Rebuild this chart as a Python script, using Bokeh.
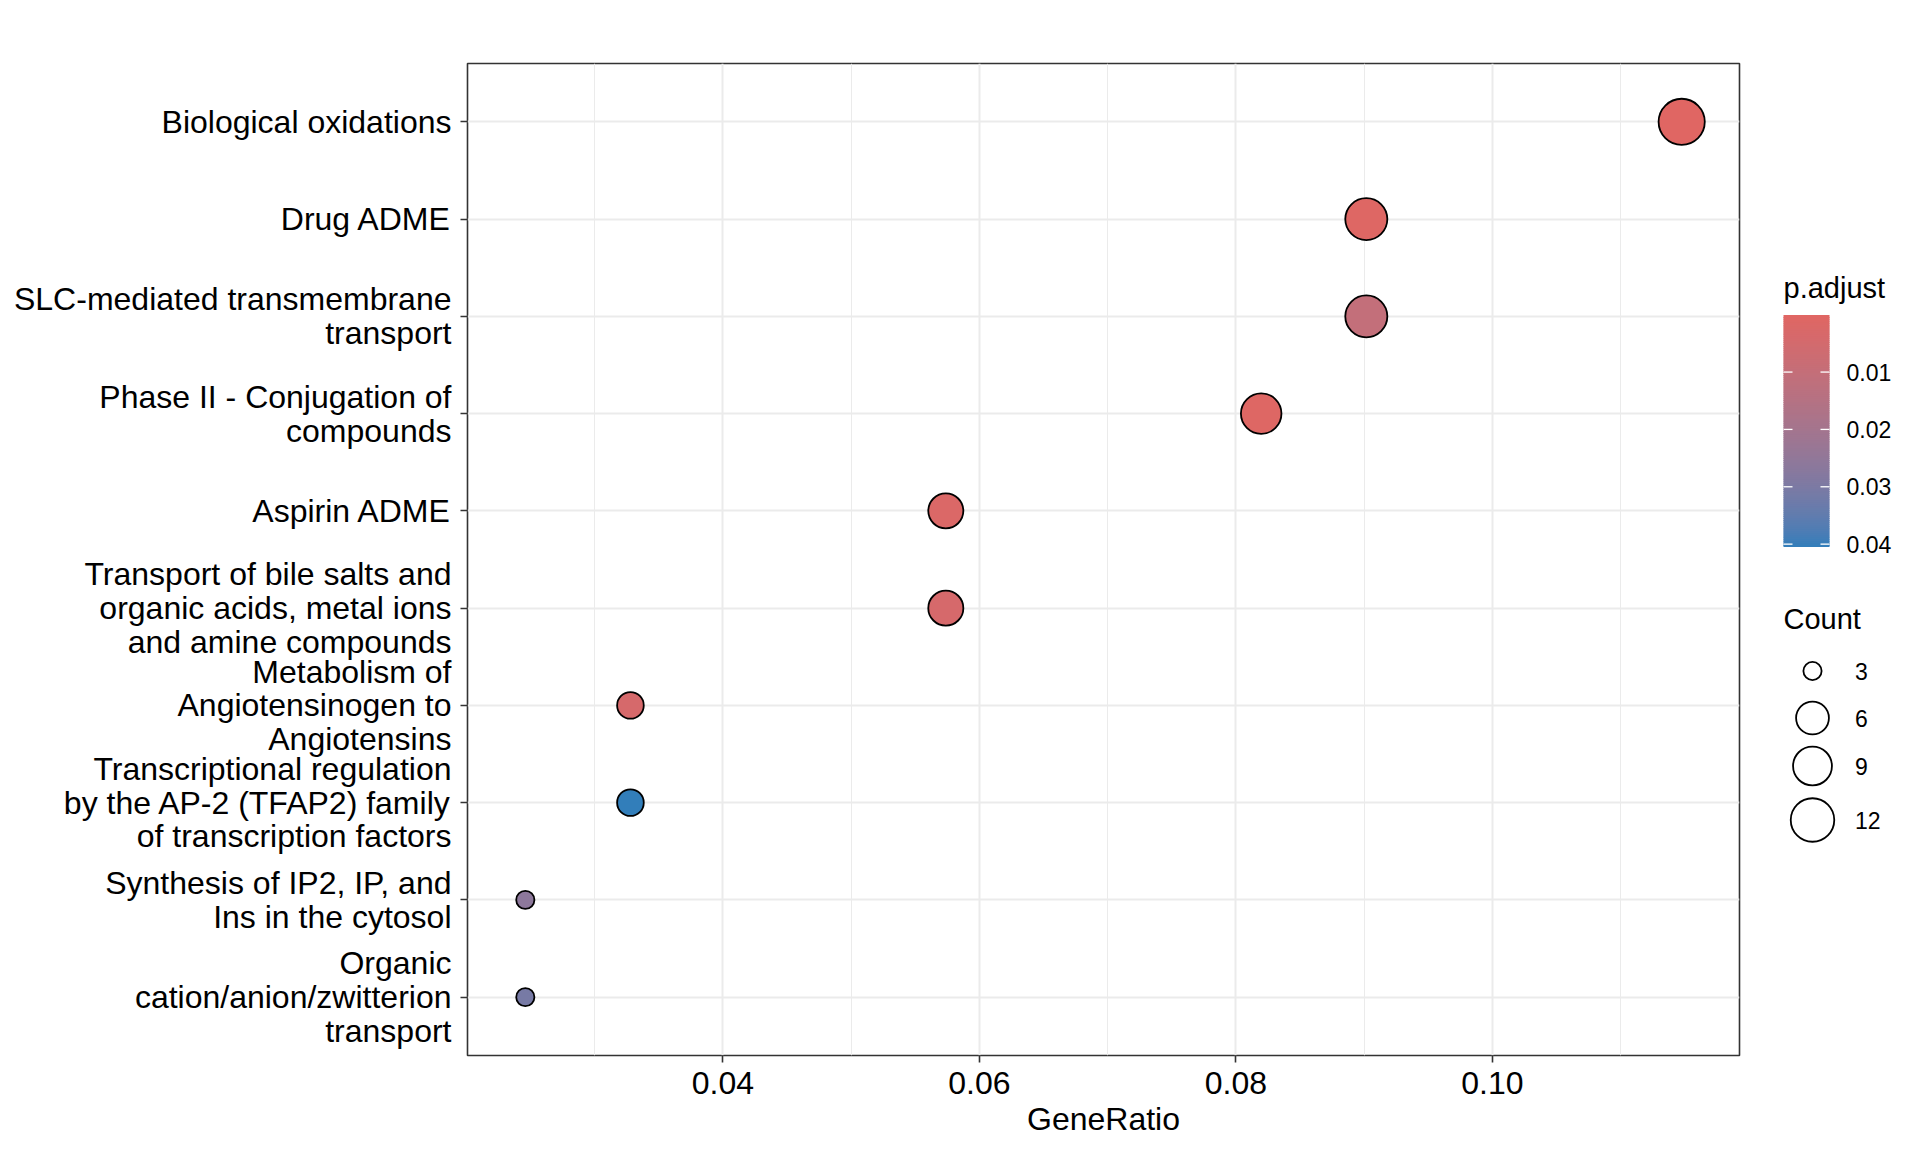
import numpy as np
from bokeh.plotting import figure
from bokeh.models import (ColumnDataSource, Range1d, FactorRange, FixedTicker,
                          LinearColorMapper, CustomJSTickFormatter)
from bokeh.layouts import row
from bokeh.transform import transform
from bokeh.core.properties import value
from bokeh.embed import file_html
from bokeh.resources import INLINE

# ---------------- data ----------------
pathways = [
    "Biological oxidations",
    "Drug ADME",
    "SLC-mediated transmembrane\ntransport",
    "Phase II - Conjugation of\ncompounds",
    "Aspirin ADME",
    "Transport of bile salts and\norganic acids, metal ions\nand amine compounds",
    "Metabolism of\nAngiotensinogen to\nAngiotensins",
    "Transcriptional regulation\nby the AP-2 (TFAP2) family\nof transcription factors",
    "Synthesis of IP2, IP, and\nIns in the cytosol",
    "Organic\ncation/anion/zwitterion\ntransport",
]
gene_ratio = [14/122, 11/122, 11/122, 10/122, 7/122, 7/122, 4/122, 4/122, 3/122, 3/122]
counts = [14, 11, 11, 10, 7, 7, 4, 4, 3, 3]
p_adjust = [0.00005, 0.0008, 0.0105, 0.0008, 0.002, 0.004, 0.004, 0.0405, 0.026, 0.031]

x_ticks = [0.04, 0.06, 0.08, 0.10]
x_minor = [0.03, 0.05, 0.07, 0.09, 0.11]
cbar_ticks = [0.01, 0.02, 0.03, 0.04]
cbar_labels = ["0.01", "0.02", "0.03", "0.04"]
count_breaks = [3, 6, 9, 12]

LOW_COL = "#e06663"
HIGH_COL = "#327eba"
FONT = "Liberation Sans"

# ---------------- colour palette (Lab interpolation) ----------------
def hex2rgb(h):
    h = h.lstrip("#")
    return np.array([int(h[i:i+2], 16) for i in (0, 2, 4)], dtype=float) / 255.0

M = np.array([[0.4124564, 0.3575761, 0.1804375],
              [0.2126729, 0.7151522, 0.0721750],
              [0.0193339, 0.1191920, 0.9503041]])
Minv = np.linalg.inv(M)
WHITE = np.array([0.95047, 1.0, 1.08883])

def rgb2lab(c):
    lin = np.where(c <= 0.04045, c / 12.92, ((c + 0.055) / 1.055) ** 2.4)
    xyz = M @ lin / WHITE
    f = np.where(xyz > (6/29) ** 3, np.cbrt(xyz), xyz / (3 * (6/29) ** 2) + 4/29)
    return np.array([116 * f[1] - 16, 500 * (f[0] - f[1]), 200 * (f[1] - f[2])])

def lab2hex(lab):
    L, a, b = lab
    fy = (L + 16) / 116
    fx = fy + a / 500
    fz = fy - b / 200
    f = np.array([fx, fy, fz])
    xyz = np.where(f > 6/29, f ** 3, 3 * (6/29) ** 2 * (f - 4/29)) * WHITE
    lin = Minv @ xyz
    lin = np.clip(lin, 0, 1)
    c = np.where(lin <= 0.0031308, 12.92 * lin, 1.055 * lin ** (1/2.4) - 0.055)
    c = np.clip(np.round(c * 255), 0, 255).astype(int)
    return "#%02x%02x%02x" % tuple(c)

l0, l1 = rgb2lab(hex2rgb(LOW_COL)), rgb2lab(hex2rgb(HIGH_COL))
palette = [lab2hex(l0 + (l1 - l0) * t) for t in np.linspace(0, 1, 256)]

vmin, vmax = min(p_adjust), max(p_adjust)
mapper = LinearColorMapper(palette=palette, low=vmin, high=vmax)

# size scale (area scale, range 3..8)
cmin, cmax = min(counts), max(counts)
def size_px(c):
    s = 3 + 5 * np.sqrt((np.asarray(c, float) - cmin) / (cmax - cmin))
    return 5.6 * s + 1.4

# ---------------- layout constants ----------------
FIG_H = 1144
B_TOP, B_BOTTOM = 63, 89
B_LEFT, FRAME_W, B_RIGHT = 467, 1272, 22

# ---------------- main panel ----------------
factors = pathways[::-1]
span = max(gene_ratio) - min(gene_ratio)
xr = Range1d(min(gene_ratio) - 0.05 * span, max(gene_ratio) + 0.05 * span)
yr = FactorRange(factors=factors, range_padding=0.1, range_padding_units="absolute")

p = figure(width=B_LEFT + FRAME_W + B_RIGHT, height=FIG_H, x_range=xr, y_range=yr,
           output_backend="svg", toolbar_location=None,
           min_border_left=B_LEFT, min_border_right=B_RIGHT,
           min_border_top=B_TOP, min_border_bottom=B_BOTTOM,
           background_fill_color="white", border_fill_color="white")

src = ColumnDataSource(dict(x=gene_ratio, y=pathways, padj=p_adjust,
                            size=list(size_px(counts)), count=counts))
p.scatter("x", "y", source=src, size="size",
          fill_color=transform("padj", mapper), fill_alpha=1.0,
          line_color="black", line_width=1.8)

p.outline_line_color = "#333333"
p.outline_line_width = 1.6

p.xaxis.ticker = FixedTicker(ticks=x_ticks, minor_ticks=x_minor)
p.xaxis.formatter = CustomJSTickFormatter(code="return tick.toFixed(2);")
p.xgrid.grid_line_color = "#ebebeb"
p.xgrid.grid_line_width = 2
p.xgrid.minor_grid_line_color = "#ebebeb"
p.xgrid.minor_grid_line_width = 1
p.ygrid.grid_line_color = "#ebebeb"
p.ygrid.grid_line_width = 2

for ax in (p.xaxis, p.yaxis):
    ax.axis_line_color = None
    ax.major_tick_line_color = "#333333"
    ax.major_tick_line_width = 1.6
    ax.major_tick_out = 7
    ax.major_tick_in = 0
    ax.minor_tick_line_color = None
    ax.major_label_text_font = FONT
    ax.major_label_text_font_size = "32px"
    ax.major_label_text_color = "black"

p.yaxis.major_label_standoff = 9
p.yaxis.major_label_text_line_height = 0.94
p.xaxis.major_label_standoff = 9
p.xaxis.axis_label = "GeneRatio"
p.xaxis.axis_label_text_font = FONT
p.xaxis.axis_label_text_font_size = "32px"
p.xaxis.axis_label_text_font_style = "normal"
p.xaxis.axis_label_text_color = "black"
p.xaxis.axis_label_standoff = 4

# ---------------- legend panel ----------------
# ranges expressed in page pixels (frame aligned with the main panel)
Q_X0 = 1769
Q_W = 139
frame_top = 8 + B_TOP
frame_bottom = frame_top + (FIG_H - B_TOP - B_BOTTOM)
q = figure(width=Q_W, height=FIG_H, x_range=Range1d(Q_X0, Q_X0 + Q_W),
           y_range=Range1d(frame_bottom, frame_top),
           output_backend="svg", toolbar_location=None,
           min_border_left=0, min_border_right=0,
           min_border_top=B_TOP, min_border_bottom=B_BOTTOM,
           x_axis_type=None, y_axis_type=None)
q.outline_line_color = None
q.grid.visible = False

# colour bar
cb_left, cb_right, cb_top, cb_bottom = 1791, 1837, 322.5, 554.5
def cb_y(v):
    return cb_top + (np.asarray(v, float) - vmin) / (vmax - vmin) * (cb_bottom - cb_top)

edges = np.linspace(vmin, vmax, 121)
mids = (edges[:-1] + edges[1:]) / 2
tops = cb_y(edges[:-1])
bots = cb_y(edges[1:])
bots[:-1] = bots[:-1] + 1.0  # small overlap to avoid seams
cb_src = ColumnDataSource(dict(v=list(mids), t=list(tops), b=list(bots)))
q.quad(left=cb_left, right=cb_right, top="t", bottom="b",
       fill_color=transform("v", mapper), line_color=None, source=cb_src)
ty = list(cb_y(cbar_ticks))
q.segment(x0=[cb_left] * 4, x1=[cb_left + 9] * 4, y0=ty, y1=ty, line_color="white", line_width=1.3)
q.segment(x0=[cb_right - 9] * 4, x1=[cb_right] * 4, y0=ty, y1=ty, line_color="white", line_width=1.3)
q.text(x=[cb_right + 17] * 4, y=ty, text=cbar_labels, text_font=value(FONT),
       text_font_size="23px", text_baseline="middle", text_align="left", text_color="black")
q.text(x=[cb_left], y=[295], text=["p.adjust"], text_font=value(FONT),
       text_font_size="29px", text_baseline="alphabetic", text_align="left", text_color="black")

# size legend
leg_y = [678.5, 725.5, 773.5, 827.5]
q.scatter(x=[1820] * 4, y=leg_y, size=list(size_px(count_breaks)), fill_color="white",
          line_color="black", line_width=1.8)
q.text(x=[1862.5] * 4, y=leg_y, text=[str(c) for c in count_breaks], text_font=value(FONT),
       text_font_size="23px", text_baseline="middle", text_align="left", text_color="black")
q.text(x=[cb_left], y=[626], text=["Count"], text_font=value(FONT),
       text_font_size="29px", text_baseline="alphabetic", text_align="left", text_color="black")

layout = row(p, q)
open("out.html", "w").write(file_html(layout, INLINE))
